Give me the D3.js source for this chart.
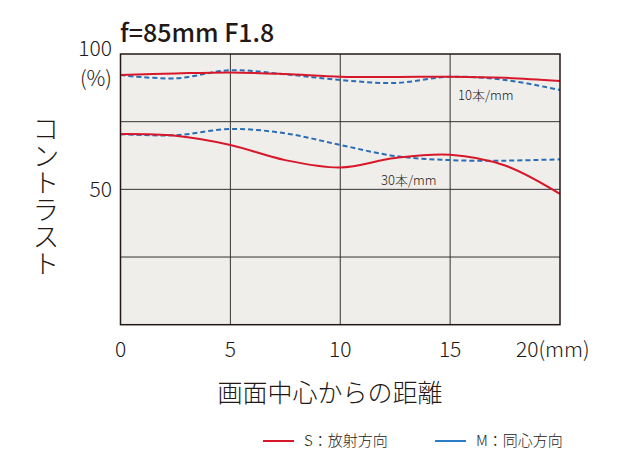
<!DOCTYPE html>
<html>
<head>
<meta charset="utf-8">
<script src="https://d3js.org/d3.v7.min.js"></script>
<style>
  body { margin: 0; background: #fff; }
  text { font-family: "Noto Sans CJK JP", "Noto Sans", sans-serif; fill: #231815; }
</style>
</head>
<body>
<div id="chart"></div>
<script>
var positions = [0, 2.5, 5, 7.5, 10, 12.5, 15, 17.5, 20];
var s10 = [92.2, 92.8, 93.2, 92.6, 91.6, 91.5, 91.6, 91.2, 90];
var m10 = [92.2, 91, 94, 92.5, 90.4, 89.3, 91.6, 90.4, 86.7];
var s30 = [70.4, 69.8, 66.4, 60.8, 58.1, 61.6, 62.8, 58.8, 48.3];
var m30 = [70.4, 70, 72.3, 70.7, 66.4, 62.3, 60.8, 60.6, 61.1];
var xTicks = ['0', '5', '10', '15', '20(mm)'];

var width = 640, height = 465;
var svg = d3.select('#chart').append('svg')
  .attr('width', width).attr('height', height);

var x = d3.scaleLinear().domain([0, 20]).range([120.5, 560]);
var y = d3.scaleLinear().domain([0, 100]).range([324.7, 54]);

svg.append('rect')
  .attr('x', x(0)).attr('y', y(100))
  .attr('width', x(20) - x(0)).attr('height', y(0) - y(100))
  .attr('fill', '#f0eeeb');

// grid
[5, 10, 15].forEach(function(v) {
  svg.append('line').attr('x1', x(v)).attr('x2', x(v))
    .attr('y1', y(100)).attr('y2', y(0))
    .attr('stroke', '#333').attr('stroke-width', 1);
});
[25, 50, 75].forEach(function(v) {
  svg.append('line').attr('x1', x(0)).attr('x2', x(20))
    .attr('y1', y(v)).attr('y2', y(v))
    .attr('stroke', '#333').attr('stroke-width', 1);
});

var line = d3.line()
  .x(function(d, i) { return x(positions[i]); })
  .y(function(d) { return y(d); })
  .curve(d3.curveCatmullRom.alpha(0.5));

[[m10, true], [m30, true], [s10, false], [s30, false]].forEach(function(s) {
  svg.append('path').attr('d', line(s[0]))
    .attr('fill', 'none')
    .attr('stroke', s[1] ? '#2a6db5' : '#d7182a')
    .attr('stroke-width', 2)
    .attr('stroke-dasharray', s[1] ? '5,3' : null);
});

svg.append('rect')
  .attr('x', x(0)).attr('y', y(100))
  .attr('width', x(20) - x(0)).attr('height', y(0) - y(100))
  .attr('fill', 'none').attr('stroke', '#231815').attr('stroke-width', 1.5);

// labels in plot
svg.append('text').attr('x', 458).attr('y', 100).attr('font-size', 13).attr('font-weight', 300).text('10本/mm');
svg.append('text').attr('x', 381).attr('y', 185).attr('font-size', 13).attr('font-weight', 300).text('30本/mm');

// title
svg.append('text').attr('x', 120).attr('y', 42).attr('font-size', 25)
  .attr('font-weight', 500).text('f=85mm F1.8');

// y labels
svg.append('text').attr('x', 112).attr('y', y(100) + 2).attr('text-anchor', 'end')
  .attr('font-size', 21).attr('font-weight', 300).text('100');
svg.append('text').attr('x', 112).attr('y', 86).attr('text-anchor', 'end')
  .attr('font-size', 21).attr('font-weight', 300).text('(%)');
svg.append('text').attr('x', 112).attr('y', y(50) + 8).attr('text-anchor', 'end')
  .attr('font-size', 21).attr('font-weight', 300).text('50');

svg.append('text')
  .attr('x', 46).attr('y', 196)
  .attr('text-anchor', 'middle').attr('font-size', 27).attr('font-weight', 300)
  .style('writing-mode', 'vertical-rl').style('text-orientation', 'upright')
  .text('コントラスト');

// x ticks
xTicks.forEach(function(t, i) {
  svg.append('text').attr('x', x(i * 5)).attr('y', 357)
    .attr('text-anchor', i === 4 ? 'start' : 'middle')
    .attr('dx', i === 4 ? -44 : 0)
    .attr('font-size', 21).attr('font-weight', 300).text(t);
});

svg.append('text').attr('x', 330).attr('y', 402).attr('text-anchor', 'middle')
  .attr('font-size', 25).attr('font-weight', 300).text('画面中心からの距離');

// legend
svg.append('line').attr('x1', 263).attr('x2', 294).attr('y1', 441).attr('y2', 441)
  .attr('stroke', '#d7182a').attr('stroke-width', 2);
svg.append('text').attr('x', 304).attr('y', 446).attr('font-size', 15).attr('font-weight', 300).text('S：放射方向');
svg.append('line').attr('x1', 435).attr('x2', 466).attr('y1', 441).attr('y2', 441)
  .attr('stroke', '#2a7dc5').attr('stroke-width', 2);
svg.append('text').attr('x', 476).attr('y', 446).attr('font-size', 15).attr('font-weight', 300).text('M：同心方向');
</script>
</body>
</html>
